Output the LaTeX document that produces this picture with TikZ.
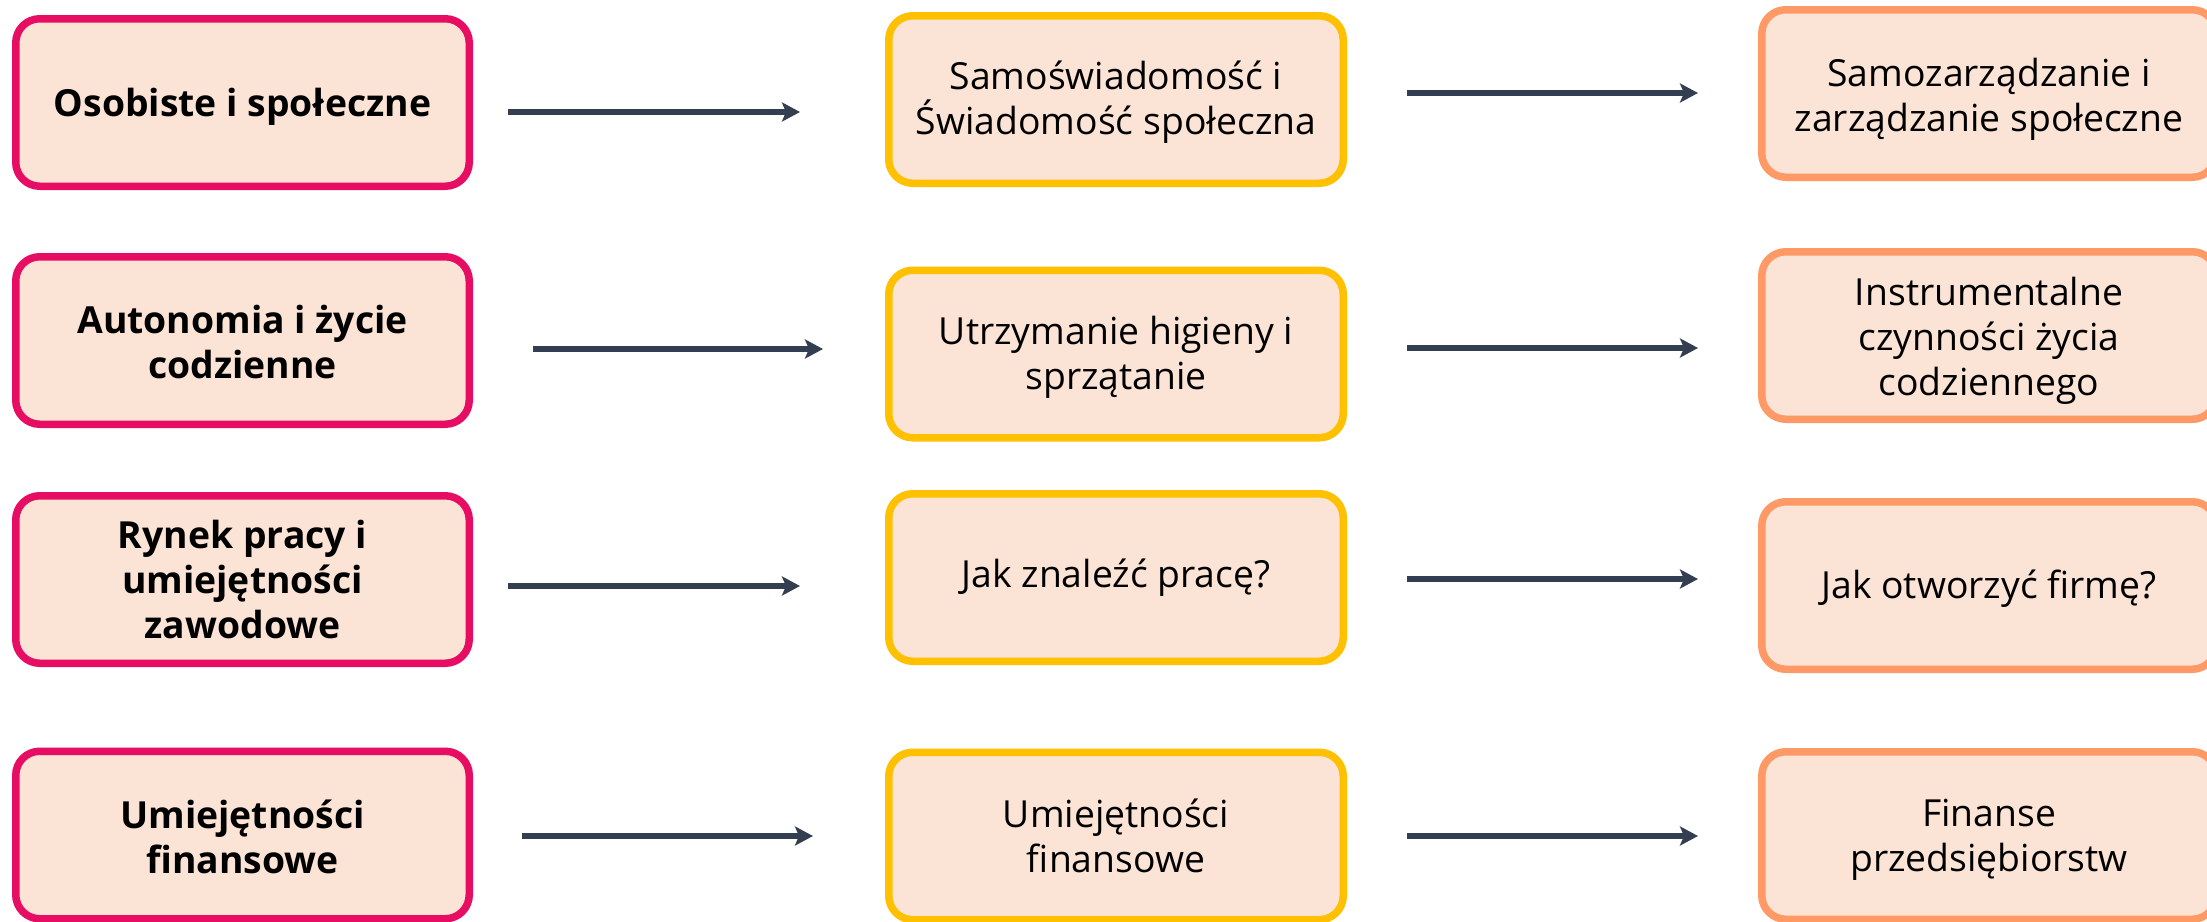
\documentclass[tikz,border=0pt]{standalone}
\usepackage{fontspec}
\setmainfont{Open Sans}
\usetikzlibrary{arrows.meta}
\definecolor{boxfill}{HTML}{FBE3D5}
\definecolor{pinkc}{HTML}{E70D63}
\definecolor{yellowc}{HTML}{FFC000}
\definecolor{orangec}{HTML}{FF9966}
\definecolor{arrowc}{HTML}{333F50}
\tikzset{
  basebox/.style={draw, fill=boxfill, line width=7.5pt, rounded corners=24pt,
    minimum height=167.5pt, inner sep=0pt},
  boxtxt/.style={align=center, inner sep=0pt, font=\fontsize{37.3}{45}\selectfont},
  boldtxt/.style={boxtxt, font=\fontsize{37.3}{45}\selectfont\bfseries},
  leftbox/.style={basebox, draw=pinkc, minimum width=453.5pt},
  midbox/.style={basebox, draw=yellowc, minimum width=454.5pt},
  rightbox/.style={basebox, draw=orangec, minimum width=454.5pt},
  flow/.style={draw=arrowc, line width=6.5pt, -{Stealth[length=18pt,width=19pt,inset=4pt]}}
}
\begin{document}
\begin{tikzpicture}[x=1pt,y=-1pt]
\useasboundingbox (0,0) rectangle (2207,921);
\clip (0,0) rectangle (2207,921);
% left column
\node[leftbox, label={[boldtxt,yshift=-4pt]center:{Osobiste i społeczne}}] (l1) at (242.5,102.5) {};
\node[leftbox, label={[boldtxt,yshift=-1.5pt]center:{Autonomia i życie\\codzienne}}] (l2) at (242.5,340.5) {};
\node[leftbox, label={[boldtxt]center:{Rynek pracy i\\umiejętności\\zawodowe}}] (l3) at (242.5,579.5) {};
\node[leftbox, label={[boldtxt,yshift=-1.5pt]center:{Umiejętności\\finansowe}}] (l4) at (242.5,835) {};
% middle column
\node[midbox, label={[boxtxt,yshift=-3pt]center:{Samoświadomość i\\Świadomość społeczna}}] (m1) at (1116,99.5) {};
\node[midbox, label={[boxtxt,yshift=-3pt]center:{Utrzymanie higieny i\\sprzątanie}}] (m2) at (1116,354) {};
\node[midbox, label={[boxtxt]center:{Jak znaleźć pracę?}}] (m3) at (1116,577.5) {};
\node[midbox, label={[boxtxt]center:{Umiejętności\\finansowe}}] (m4) at (1116,836) {};
% right column
\node[rightbox, label={[boxtxt,yshift=-5.5pt]center:{Samozarządzanie i\\zarządzanie społeczne}}] (r1) at (1989,93.5) {};
\node[rightbox, label={[boxtxt,yshift=-5.5pt]center:{Instrumentalne\\czynności życia\\codziennego}}] (r2) at (1989,335.5) {};
\node[rightbox, label={[boxtxt,yshift=-3pt]center:{Jak otworzyć firmę?}}] (r3) at (1989,585.5) {};
\node[rightbox, label={[boxtxt,yshift=-4pt]center:{Finanse\\przedsiębiorstw}}] (r4) at (1989,835.5) {};
% arrow end points
\coordinate (a1s) at (508,112);  \coordinate (a1e) at (800,112);
\coordinate (b1s) at (1407,93);  \coordinate (b1e) at (1698,93);
\coordinate (a2s) at (533,349);  \coordinate (a2e) at (823,349);
\coordinate (b2s) at (1407,348); \coordinate (b2e) at (1698,348);
\coordinate (a3s) at (508,586);  \coordinate (a3e) at (800,586);
\coordinate (b3s) at (1407,579); \coordinate (b3e) at (1698,579);
\coordinate (a4s) at (522,836);  \coordinate (a4e) at (813,836);
\coordinate (b4s) at (1407,836); \coordinate (b4e) at (1698,836);
\draw[flow] (a1s) -- (a1e);
\draw[flow] (b1s) -- (b1e);
\draw[flow] (a2s) -- (a2e);
\draw[flow] (b2s) -- (b2e);
\draw[flow] (a3s) -- (a3e);
\draw[flow] (b3s) -- (b3e);
\draw[flow] (a4s) -- (a4e);
\draw[flow] (b4s) -- (b4e);
\end{tikzpicture}
\end{document}
